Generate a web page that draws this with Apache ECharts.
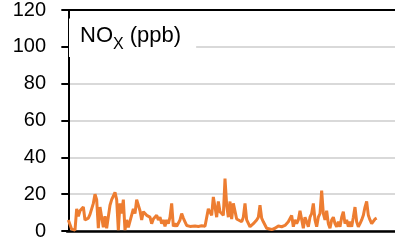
<!DOCTYPE html>
<html style="height: 100%">
<head>
<meta charset="utf-8">
<script src="https://cdn.jsdelivr.net/npm/echarts@6/dist/echarts.min.js"></script>
</head>
<body style="height: 100%; margin: 0; background: #fff">
<div id="container" style="width: 395px; height: 241px"></div>
<script>
// sample number along the record, and NOx (ppb)
var sampleNo = [
  0,2,4,5,6,7,9,10,12,13,15,16,17,18,19,21,22,23,25,26,
  28,29,30,31,32,33,34,35,36,37,39,40,41,42,43,44,45,47,49,50,
  51,53,54,55,56,57,58,59,60,61,62,63,64,65,66,67,68,69,70,71,73,
  76,78,80,82,83,84,85,86,87,88,89,90,91,92,93,94,95,96,97,98,99,100,101,102,
  104,105,106,107,108,109,110,111,112,113,114,115,116,117,118,119,120,
  122,124,
  126,127,128,129,130,131,132,133,134,135,136,137,138,139,140,141,142,143,144,145,
  146,147,148,149,150,151,152,153,154,155,156,157,158,159,160,161,162,163,164,165,
  166,167,168,169,170,171,172,173,174,175,176,177,178,179,180,181,182,183,184,185
];
var nox = [
  6,1,0.5,12,8,11,13,6,7,9,15,20,17,1.5,13,2,8,1.5,14,17,
  21,17,0.5,15,9.5,17,0.5,6,2,1.5,12,9.5,17,18,11,6,10.5,8.5,7.5,4,
  6.5,8.5,6,7.5,4,6,2.5,6,4,7.5,15,2.5,4,2.5,2.5,6,9.5,7,5,3,2.5,
  2.7,2.5,2.8,2.6,2.3,12,13,8.5,18.5,13,7.5,16,10.5,11.5,8.5,28.5,14,7.5,16,6.5,15,16,6.5,6,
  5,7.5,15,6,5,2.3,2.3,4,3,6,7.5,14,7,5,6,1.5,0.5,
  0.8,1.5,
  2.7,3,2.3,1.5,3,2.7,5,4,8.5,2.3,6,4,6,11,10,1.5,7.5,5,2.3,7.5,
  9.5,15,6,2.3,7.5,9.5,22,9.5,6,11,4,1.5,6,7.5,4,2.3,5,2.3,7.5,10.5,
  4,6,2.3,5,2.3,7.5,13,5,2.3,4,6,8.5,13,16,8.5,6,4,5,6.5,7
];
var yTicks = [0, 20, 40, 60, 80, 100, 120];

var points = [];
for (var i = 0; i < sampleNo.length; i++) {
  points.push([sampleNo[i], nox[i]]);
}

var myChart = echarts.init(document.getElementById('container'));
var option = {
  animation: false,
  title: {
    text: '{m|NO}{s|X}{m| (ppb)}',
    left: 69,
    top: 12,
    padding: [6, 15, 4, 11],
    backgroundColor: '#fff',
    textStyle: {
      fontWeight: 'normal',
      rich: {
        m: { fontFamily: 'Liberation Sans', fontWeight: 'normal', fontSize: 22, color: '#000', lineHeight: 26 },
        s: { fontFamily: 'Liberation Sans', fontWeight: 'normal', fontSize: 16, color: '#000', padding: [19, 0, 0, 0] }
      }
    }
  },
  grid: { left: 67, right: 0, top: 10, bottom: 10, containLabel: false },
  xAxis: [{
    type: 'value',
    min: -0.8,
    max: 196,
    axisLine: { show: true, onZero: false, lineStyle: { color: '#000', width: 2.5 } },
    axisTick: { show: false },
    axisLabel: { show: false },
    splitLine: { show: false }
  }, {
    type: 'value',
    position: 'top',
    min: -0.8,
    max: 196,
    axisLine: { show: true, onZero: false, lineStyle: { color: '#000', width: 2 } },
    axisTick: { show: false },
    axisLabel: { show: false },
    splitLine: { show: false }
  }],
  yAxis: {
    type: 'value',
    min: yTicks[0],
    max: yTicks[yTicks.length - 1],
    interval: 20,
    axisLine: { show: true, lineStyle: { color: '#000', width: 2 } },
    axisTick: { show: true, length: 7, lineStyle: { color: '#000', width: 2 } },
    axisLabel: { margin: 21, fontFamily: 'Liberation Sans', fontSize: 20, color: '#000' },
    splitLine: { lineStyle: { color: '#d9d9d9', width: 2 } }
  },
  series: [{
    type: 'line',
    data: points,
    showSymbol: false,
    lineStyle: { color: '#ED7D31', width: 3 },
    itemStyle: { color: '#ED7D31' }
  }]
};
myChart.setOption(option);
</script>
</body>
</html>
